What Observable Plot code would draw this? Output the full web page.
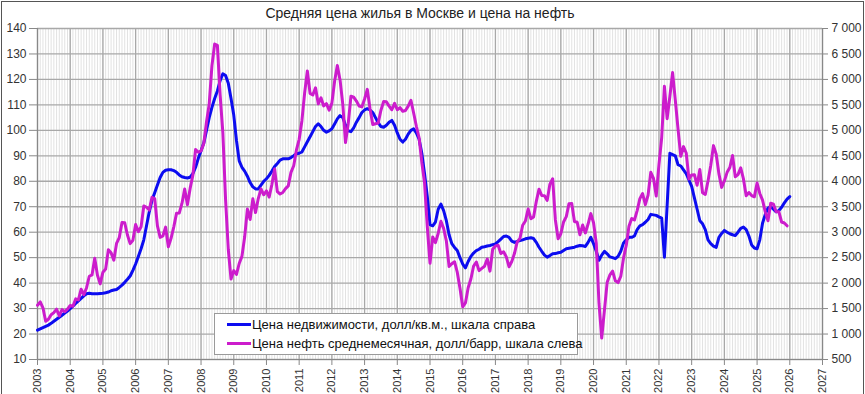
<!DOCTYPE html>
<html><head><meta charset="utf-8">
<script src="https://cdn.jsdelivr.net/npm/d3@7"></script>
<script src="https://cdn.jsdelivr.net/npm/@observablehq/plot@0.6"></script>
<style>
body{margin:0;background:#fff;}
#wrap{position:relative;width:865px;height:394px;overflow:hidden;background:#fff;}
#frame{position:absolute;left:1px;top:1px;width:861px;height:420px;border:1px solid #555;pointer-events:none;}
#title{position:absolute;left:0;width:840px;top:5px;text-align:center;font:14px "Liberation Sans Narrow","Liberation Sans",Arial,sans-serif;color:#222;}
#chart{position:absolute;left:0;top:0;}
#legend{position:absolute;left:214px;top:313px;width:362px;height:40px;border:1px solid #9a9a9a;background:#fff;font:13px Arial,"Liberation Sans",sans-serif;color:#111;}
#legend .row{position:absolute;left:12px;height:16px;line-height:16px;white-space:nowrap;}
#legend .sw{display:inline-block;width:24px;height:3px;vertical-align:middle;margin-right:1px;position:relative;top:-1px;}
</style>
</head><body>
<div id="wrap">
  <div id="chart"></div>
  <div id="title"></div>
  <div id="legend"></div>
  <div id="frame"></div>
</div>
<script>
const title = "Средняя цена жилья в Москве и цена на нефть";
const seriesNames = ["Цена недвижимости, долл/кв.м., шкала справа", "Цена нефть среднемесячная, долл/барр, шкала слева"];
const seriesColors = ["#0c0cf0", "#cc1ccc"];
const startYear = 2003;
const yearTicks = d3.range(2003, 2028);
const leftTicks = [10,20,30,40,50,60,70,80,90,100,110,120,130,140];

// Oil price, monthly average, $/bbl (left scale), Jan 2003 .. Dec 2025
const oil = [
 31.3,32.6,30.3,25.0,25.8,27.6,28.4,29.8,27.1,29.6,28.8,29.8,
 31.2,30.9,33.8,33.4,37.6,35.5,38.2,42.7,43.2,49.8,43.1,39.7,
 44.3,45.5,53.1,51.9,49.0,55.6,57.9,63.8,63.7,58.9,55.5,56.8,
 63.0,60.2,62.1,70.3,69.8,68.7,73.7,73.2,62.5,58.0,58.5,62.0,
 54.3,57.6,62.1,67.4,67.5,71.3,77.0,70.8,77.2,82.4,92.5,91.4,
 91.9,94.8,103.3,110.4,125.4,133.9,133.4,113.9,99.1,72.8,53.2,41.6,
 44.9,43.4,47.7,50.5,58.1,69.1,65.0,73.1,67.7,73.2,77.0,74.7,
 76.2,73.8,78.8,84.8,75.9,75.0,75.6,77.1,78.2,83.5,86.1,92.3,
 96.5,103.7,114.6,123.3,114.5,113.9,116.7,110.4,112.8,109.6,110.5,107.9,
 110.7,119.3,125.5,119.8,110.3,95.2,102.6,113.4,113.0,111.5,109.5,109.2,
 112.3,116.1,108.5,102.3,102.6,102.9,107.9,111.3,111.2,109.5,108.1,110.6,
 108.1,108.9,107.5,107.8,109.5,111.8,106.8,101.6,97.1,87.4,79.4,62.3,
 47.8,58.1,55.9,59.5,64.3,61.5,56.6,46.5,47.6,48.4,44.3,38.0,
 30.7,32.2,38.2,41.6,46.7,48.3,44.9,45.8,46.6,49.5,44.7,53.3,
 54.6,54.9,51.6,52.3,50.3,46.4,48.5,51.7,56.2,57.5,62.7,64.4,
 69.1,65.3,66.0,72.1,76.9,74.4,74.3,72.5,78.9,81.0,64.8,57.4,
 59.4,64.0,66.1,71.2,71.3,64.2,63.9,59.0,62.8,59.7,63.2,67.3,
 63.7,55.7,32.0,18.4,29.4,40.3,43.2,44.7,40.9,40.2,42.7,49.9,
 54.8,62.3,65.4,64.8,68.5,73.2,75.2,70.8,74.5,83.5,81.1,74.2,
 86.5,97.1,117.3,104.6,113.3,122.7,111.9,100.5,89.8,93.6,91.1,80.9,
 82.5,82.6,78.4,84.6,75.5,74.8,80.1,86.2,94.0,90.6,82.9,77.6,
 80.1,83.5,85.4,90.1,81.8,82.6,85.3,80.9,74.3,75.6,74.4,73.9,
 79.3,75.2,72.6,68.0,64.5,71.4,71.0,68.0,68.0,64.0,63.6,62.5
];

// Moscow housing price, $/sq.m (right scale), Jan 2003 .. Jan 2026
const housing = [
 1075,1100,1125,1150,1175,1210,1250,1290,1330,1370,1410,1450,
 1500,1550,1600,1650,1700,1750,1790,1800,1790,1790,1790,1795,
 1800,1810,1825,1850,1865,1875,1915,1960,2015,2075,2140,2250,
 2375,2525,2675,2850,3125,3400,3625,3775,3925,4075,4175,4215,
 4225,4225,4210,4175,4125,4090,4075,4065,4080,4150,4275,4450,
 4600,4750,5000,5250,5450,5625,5775,5975,6110,6075,5925,5625,
 5300,4800,4400,4275,4200,4100,3975,3890,3850,3850,3925,4000,
 4050,4115,4200,4290,4350,4415,4440,4440,4440,4465,4500,4540,
 4550,4575,4675,4775,4875,4975,5075,5130,5075,5000,4965,4990,
 5030,5125,5225,5290,5250,5100,4990,4975,5050,5160,5250,5350,
 5400,5425,5400,5350,5250,5150,5075,5060,5100,5160,5195,5100,
 4950,4825,4770,4825,4925,5000,5030,4950,4825,4550,4150,3700,
 3150,3125,3200,3450,3550,3425,3225,2950,2775,2700,2640,2500,
 2375,2300,2425,2525,2590,2640,2665,2705,2715,2730,2740,2755,
 2770,2815,2865,2915,2925,2900,2825,2800,2820,2835,2850,2870,
 2880,2890,2875,2800,2705,2625,2550,2510,2540,2575,2580,2595,
 2605,2640,2675,2685,2695,2705,2725,2740,2735,2720,2800,2900,
 2775,2625,2450,2550,2625,2575,2515,2500,2480,2525,2625,2790,
 2850,2900,2900,2925,3050,3125,3150,3195,3250,3350,3340,3330,
 3300,3275,2510,3525,4550,4525,4500,4325,4300,4225,4150,4025,
 3900,3675,3450,3225,3165,3050,2850,2775,2725,2700,2900,2975,
 3035,3000,2970,2950,2935,3000,3075,3100,3050,2925,2750,2690,
 2675,2850,3175,3350,3475,3500,3450,3400,3425,3490,3575,3650,
 3700
];

const ratio = 50; // right scale = left scale * 50
const oilData = oil.map((v, i) => ({t: startYear + i / 12, v}));
const houseData = housing.map((v, i) => ({t: startYear + i / 12, v: v / ratio}));
const monthGrid = d3.range(0, (2027 - 2003) * 12 + 1).map(i => 2003 + i / 12);
const fmtRight = d => d3.format(",")(d * ratio).replace(/,/g, " ");

const font = 'Arial, "Liberation Sans", sans-serif';
const chart = Plot.plot({
  width: 865, height: 394,
  marginTop: 28, marginBottom: 35, marginLeft: 37, marginRight: 43,
  style: {fontFamily: font, fontSize: "12px", color: "#333", background: "transparent"},
  x: {domain: [2003, 2027]},
  y: {domain: [10, 140]},
  marks: [
    Plot.ruleX(monthGrid, {stroke: "#e2e2e2", strokeWidth: 1}),
    Plot.ruleX(yearTicks, {stroke: "#a8a8a8", strokeWidth: 1.3}),
    Plot.ruleY(leftTicks, {stroke: "#a8a8a8", strokeWidth: 1.3}),
    Plot.ruleX([2003, 2027], {stroke: "#888", strokeWidth: 1.2}),
    Plot.ruleY([10], {stroke: "#888", strokeWidth: 1.2}),
    Plot.axisY({anchor: "left", ticks: leftTicks, tickSize: 8, tickPadding: 3, label: null, stroke: "#888", fontSize: 12}),
    Plot.axisY({anchor: "right", ticks: leftTicks, tickSize: 5, tickPadding: 4, tickFormat: fmtRight, label: null, stroke: "#888", fontSize: 12}),
    Plot.axisX({ticks: yearTicks, tickFormat: d => String(d), tickRotate: -90, tickSize: 6, tickPadding: 3, label: null, stroke: "#888", fontSize: 11}),
    Plot.line(houseData, {x: "t", y: "v", stroke: seriesColors[0], strokeWidth: 3, curve: "linear"}),
    Plot.line(oilData, {x: "t", y: "v", stroke: seriesColors[1], strokeWidth: 3, curve: "linear"})
  ]
});
document.getElementById("chart").appendChild(chart);
document.getElementById("title").textContent = title;

const legend = document.getElementById("legend");
seriesNames.forEach((name, i) => {
  const row = document.createElement("div");
  row.className = "row";
  row.style.top = (3 + i * 19) + "px";
  const sw = document.createElement("span");
  sw.className = "sw";
  sw.style.background = seriesColors[i];
  row.appendChild(sw);
  row.appendChild(document.createTextNode(name));
  legend.appendChild(row);
});
</script>
</body></html>
